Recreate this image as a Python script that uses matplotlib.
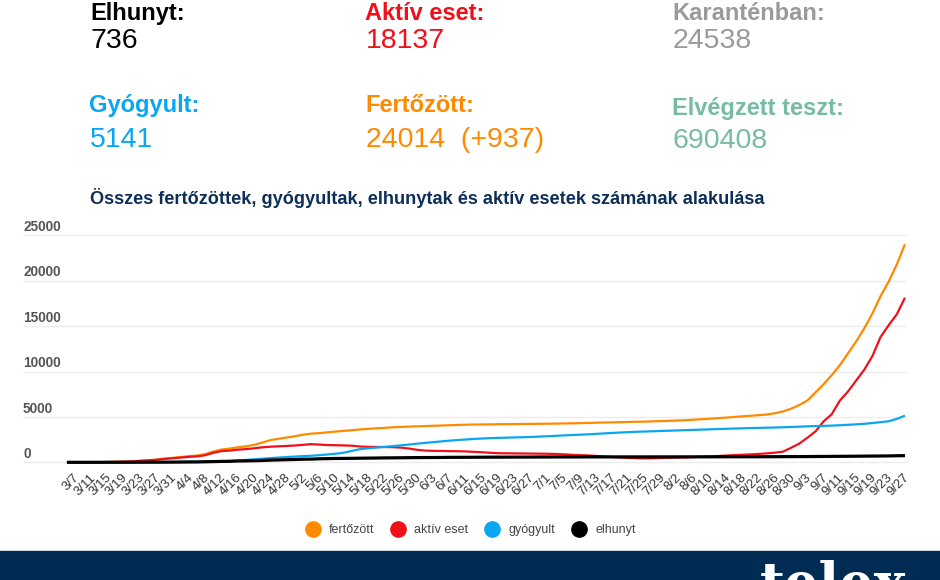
import numpy as np
import matplotlib.pyplot as plt
from matplotlib.lines import Line2D
from matplotlib.transforms import blended_transform_factory

plt.rcParams['font.family'] = ['Liberation Sans', 'DejaVu Sans']

# every second day from 3/5 to 9/27
fertozott = [2, 5, 9, 13, 19, 32, 50, 73, 103, 167, 226, 300, 408, 492, 585, 678, 744, 895,
             1190, 1410, 1512, 1652, 1763, 1916, 2168, 2443, 2583, 2727, 2863, 3035, 3150, 3213,
             3300, 3380, 3460, 3530, 3620, 3680, 3740, 3790, 3850, 3890, 3930, 3960, 3990, 4020,
             4050, 4080, 4110, 4140, 4160, 4170, 4180, 4190, 4200, 4210, 4220, 4230, 4240, 4250,
             4260, 4275, 4290, 4310, 4330, 4360, 4380, 4400, 4420, 4440, 4460, 4480, 4510, 4540,
             4570, 4600, 4640, 4690, 4740, 4800, 4860, 4920, 4990, 5060, 5120, 5190, 5260, 5400,
             5600, 5900, 6300, 6800, 7700, 8600, 9600, 10700, 12000, 13300, 14750, 16400, 18300,
             19900, 21800, 24014]
aktiv = [2, 5, 9, 13, 18, 30, 47, 70, 98, 155, 205, 270, 370, 440, 520, 600, 650, 780,
         1050, 1230, 1290, 1390, 1450, 1540, 1650, 1720, 1760, 1800, 1850, 1920, 2000, 1950,
         1900, 1880, 1860, 1830, 1740, 1700, 1690, 1680, 1670, 1620, 1520, 1380, 1290, 1260,
         1250, 1230, 1220, 1200, 1150, 1110, 1050, 1000, 990, 980, 970, 960, 950, 940,
         920, 880, 830, 790, 760, 700, 640, 580, 540, 480, 450, 430, 440, 470,
         500, 520, 540, 570, 600, 640, 690, 740, 790, 830, 870, 920, 980, 1060,
         1170, 1600, 2050, 2700, 3400, 4500, 5300, 6800, 7800, 9000, 10200, 11700, 13800,
         15100, 16300, 18137]
gyogyult = [0, 0, 0, 0, 0, 0, 0, 0, 0, 5, 10, 20, 30, 40, 50, 60, 70, 90,
            100, 120, 150, 200, 260, 330, 400, 460, 520, 580, 630, 680, 720, 780,
            860, 940, 1050, 1250, 1450, 1540, 1620, 1700, 1780, 1860, 1950, 2050, 2130, 2220,
            2300, 2380, 2450, 2510, 2570, 2620, 2660, 2690, 2710, 2740, 2760, 2790, 2830, 2870,
            2910, 2960, 3000, 3040, 3080, 3130, 3180, 3230, 3280, 3320, 3360, 3390, 3420, 3450,
            3480, 3510, 3540, 3570, 3600, 3630, 3660, 3690, 3720, 3740, 3770, 3790, 3810, 3830,
            3860, 3890, 3920, 3960, 3990, 4010, 4040, 4080, 4130, 4180, 4240, 4320, 4420,
            4520, 4780, 5141]
elhunyt = [0, 0, 0, 0, 0, 1, 1, 4, 7, 10, 10, 13, 15, 16, 26, 34, 38, 58,
           77, 99, 109, 142, 156, 172, 199, 239, 262, 291, 312, 340, 351, 383,
           405, 421, 430, 436, 451, 462, 470, 486, 491, 499, 509, 517, 526, 527,
           533, 545, 548, 551, 556, 561, 565, 568, 570, 573, 575, 577, 585, 586,
           588, 589, 592, 592, 594, 595, 595, 596, 596, 596, 596, 596, 598, 598,
           598, 600, 600, 603, 604, 604, 606, 609, 610, 611, 613, 614, 616, 617,
           621, 625, 629, 632, 639, 643, 652, 658, 663, 670, 678, 686, 693,
           703, 720, 736]

tick_labels = ['3/7', '3/11', '3/15', '3/19', '3/23', '3/27', '3/31', '4/4', '4/8', '4/12',
               '4/16', '4/20', '4/24', '4/28', '5/2', '5/6', '5/10', '5/14', '5/18', '5/22',
               '5/26', '5/30', '6/3', '6/7', '6/11', '6/15', '6/19', '6/23', '6/27', '7/1',
               '7/5', '7/9', '7/13', '7/17', '7/21', '7/25', '7/29', '8/2', '8/6', '8/10',
               '8/14', '8/18', '8/22', '8/26', '8/30', '9/3', '9/7', '9/11', '9/15', '9/19',
               '9/23', '9/27']
y_ticks = [0, 5000, 10000, 15000, 20000, 25000]

header = [
    ('Elhunyt:', '736', '#000000', 90, 20, 48),
    ('Aktív eset:', '18137', '#f0101a', 365, 20, 48),
    ('Karanténban:', '24538', '#9a9a9a', 672, 20, 48),
    ('Gyógyult:', '5141', '#0aa6f2', 89, 112, 147),
    ('Fertőzött:', '24014  (+937)', '#ff8a00', 365, 112, 147),
    ('Elvégzett teszt:', '690408', '#78bba4', 672, 115, 148),
]

series = [
    (fertozott, '#ff8a00', 'fertőzött', 1.6),
    (aktiv, '#f0101a', 'aktív eset', 1.6),
    (gyogyult, '#0aa6f2', 'gyógyult', 1.6),
    (elhunyt, '#000000', 'elhunyt', 2.3),
]

W, H = 940, 580
fig = plt.figure(figsize=(W / 100, H / 100), dpi=100)

for lab, num, col, x, yl, yn in header:
    fig.text(x / W, 1 - yl / H, lab, color=col, fontsize=17, fontweight='bold', va='baseline')
    fig.text((x + 1) / W, 1 - yn / H, num, color=col, fontsize=20.5, va='baseline')

fig.text(90 / W, 1 - 204 / H,
         'Összes fertőzöttek, gyógyultak, elhunytak és aktív esetek számának alakulása',
         color='#0d2f57', fontsize=13.1, fontweight='bold', va='baseline')

# plot area: x from 23px to 907px, value 0 at 462px, 25000 at 235px
ylo, yhi = -400, 25400
px_per = (462.3 - 235.3) / 25000
bot = 462.3 + (0 - ylo) * px_per
top = 235.3 - (yhi - 25000) * px_per
ax = fig.add_axes([23 / W, 1 - bot / H, 884 / W, (bot - top) / H])

# days counted from 3/7, points sit half a day right of the tick days
x = np.arange(-1.5, 205, 2)
for vals, col, lab, lw in series:
    ax.plot(x, vals, color=col, lw=lw, label=lab, solid_capstyle='butt', zorder=3)

ax.set_xlim(-12.3, 205.0)
ax.set_ylim(ylo, yhi)
for s in ax.spines.values():
    s.set_visible(False)
ax.set_yticks([])
for v in y_ticks:
    ax.axhline(v, color='#ececec', lw=1, zorder=1)
trans = blended_transform_factory(ax.transAxes, ax.transData)
for v in y_ticks:
    ax.text(0, v + 150, str(v), transform=trans, fontsize=9.8, fontweight='bold',
            color='#555555', va='bottom', ha='left')

ax.set_xticks(np.arange(0, 205, 4))
ax.set_xticklabels(tick_labels, rotation=45, ha='right', va='top',
                   rotation_mode='anchor', fontsize=9.5, color='#333333')
ax.tick_params(axis='x', length=0, pad=4)

handles = [Line2D([], [], marker='o', ls='', color=c, markersize=11) for _, c, _, _ in series]
fig.legend(handles, [s[2] for s in series], loc='center', bbox_to_anchor=(468 / W, 1 - 530 / H),
           ncol=4, frameon=False, fontsize=9, handletextpad=0.3, columnspacing=0.9,
           labelcolor='#444444')

fig.patches.append(plt.Rectangle((0, 0), 1, (H - 551) / H, transform=fig.transFigure,
                                 color='#002b52', zorder=0))
fig.text(760 / W, 1 - 601 / H, 'telex', family='DejaVu Serif', fontweight='bold',
         fontsize=39, color='white', va='baseline')

fig.savefig('out.png', dpi=100)
